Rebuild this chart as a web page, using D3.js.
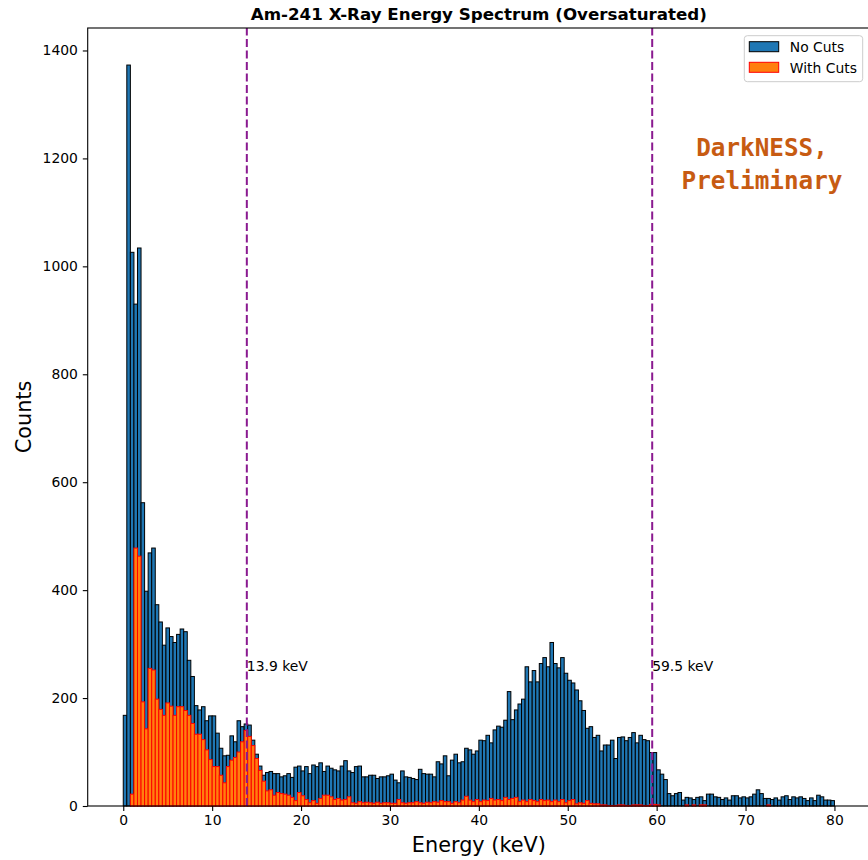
<!DOCTYPE html>
<html>
<head>
<meta charset="utf-8">
<script src="https://cdn.jsdelivr.net/npm/d3@7"></script>
<style>
  html, body { margin: 0; padding: 0; background: #fff; }
  svg { display: block; }
</style>
</head>
<body>
<svg id="chart" width="868" height="860"></svg>
<script>
// Histogram binning (keV)
const binStart = 0;
const binWidth = 0.4;

// Counts per 0.4 keV bin, 0-80 keV, without event cuts
const noCuts = [
  168, 1373, 1026, 930, 1034, 562, 398, 469, 478, 373,
  341, 298, 330, 314, 303, 318, 328, 323, 270, 240,
  186, 178, 184, 158, 167, 167, 135, 107, 93, 94,
  130, 119, 158, 147, 152, 150, 122, 96, 74, 57,
  62, 64, 60, 60, 54, 56, 60, 53, 72, 74,
  65, 73, 60, 76, 73, 80, 64, 74, 70, 67,
  65, 74, 84, 65, 62, 73, 74, 54, 54, 57,
  57, 51, 54, 54, 56, 59, 48, 43, 65, 54,
  53, 51, 49, 68, 60, 59, 59, 54, 82, 78,
  93, 56, 85, 96, 80, 82, 107, 104, 96, 102,
  122, 121, 131, 117, 141, 148, 146, 159, 212, 160,
  178, 189, 198, 258, 230, 251, 230, 264, 275, 258,
  303, 264, 256, 275, 246, 233, 228, 215, 195, 177,
  144, 147, 127, 131, 102, 113, 113, 122, 88, 127,
  128, 121, 127, 136, 117, 131, 123, 121, 99, 99,
  67, 59, 49, 23, 19, 23, 25, 11, 16, 15,
  12, 16, 17, 10, 22, 22, 17, 16, 12, 15,
  11, 19, 19, 15, 17, 15, 17, 22, 30, 23,
  14, 14, 12, 15, 11, 17, 19, 12, 17, 15,
  17, 14, 10, 15, 10, 20, 17, 11, 11, 10
];

// Counts per bin after event cuts
const withCuts = [
  0, 0, 22, 478, 463, 193, 143, 255, 252, 198,
  179, 168, 191, 185, 168, 184, 184, 177, 168, 153,
  133, 133, 123, 104, 86, 73, 73, 57, 43, 73,
  85, 90, 100, 119, 140, 129, 112, 88, 66, 46,
  28, 30, 20, 25, 23, 22, 20, 16, 10, 25,
  19, 12, 6, 10, 5, 14, 20, 20, 17, 12,
  14, 11, 12, 17, 6, 5, 8, 6, 7, 6,
  5, 7, 5, 6, 6, 5, 5, 12, 6, 5,
  6, 6, 8, 6, 5, 7, 6, 8, 7, 10,
  8, 8, 5, 8, 6, 11, 18, 11, 8, 12,
  8, 11, 10, 14, 11, 12, 10, 16, 12, 14,
  16, 8, 11, 8, 12, 10, 8, 12, 10, 11,
  8, 11, 8, 12, 6, 10, 12, 4, 6, 5,
  10, 5, 4, 4, 2, 2, 1, 1, 1, 2,
  2, 1, 1, 2, 2, 2, 1, 1, 3, 3,
  2, 0, 0, 0, 0, 0, 0, 0, 2, 0,
  2, 0, 2, 2, 0, 0, 0, 0, 0, 0,
  0, 0, 0, 0, 0, 0, 0, 0, 0, 0,
  0, 2, 0, 0, 0, 0, 0, 0, 0, 0,
  0, 0, 0, 0, 0, 0, 0, 0, 0, 0
];

const seriesNames = ["No Cuts", "With Cuts"];
const xTicks = [0, 10, 20, 30, 40, 50, 60, 70, 80];
const yTicks = [0, 200, 400, 600, 800, 1000, 1200, 1400];

// Reference X-ray lines and where their labels sit
const markerEnergies = [13.9, 59.5];
const markerLabels = ["13.9 keV", "59.5 keV"];
const markerLabelCount = 250;

const titleText = "Am-241 X-Ray Energy Spectrum (Oversaturated)";
const xLabelText = "Energy (keV)";
const yLabelText = "Counts";
const watermarkLines = ["DarkNESS,", "Preliminary"];

// ---- layout ----
const svg = d3.select("#chart");
const plot = { left: 87.7, right: 870, top: 28, bottom: 806 };
const FONT = "'DejaVu Sans', sans-serif";

const nBins = noCuts.length;
const binEnd = binStart + nBins * binWidth;
const span = binEnd - binStart;

const x = d3.scaleLinear()
  .domain([binStart - 0.05 * span, binEnd + 0.05 * span])
  .range([plot.left, plot.right]);
const y = d3.scaleLinear()
  .domain([0, d3.max(noCuts) * 1.05])
  .range([plot.bottom, plot.top]);

const barW = x(binWidth) - x(0);
const binLeft = i => x(binStart + i * binWidth);

// ---- bars ----
const gBars = svg.append("g");
gBars.selectAll("rect.nocut")
  .data(noCuts)
  .join("rect")
  .attr("class", "nocut")
  .attr("x", (d, i) => binLeft(i))
  .attr("y", d => y(d))
  .attr("width", barW)
  .attr("height", d => y(0) - y(d))
  .attr("fill", "#1f77b4")
  .attr("stroke", "#000")
  .attr("stroke-width", 1);

gBars.selectAll("rect.withcut")
  .data(withCuts.map((v, i) => ({ v, i })).filter(d => d.v > 0))
  .join("rect")
  .attr("class", "withcut")
  .attr("x", d => binLeft(d.i))
  .attr("y", d => y(d.v))
  .attr("width", barW)
  .attr("height", d => y(0) - y(d.v))
  .attr("fill", "#ff7f0e")
  .attr("stroke", "#ff0000")
  .attr("stroke-width", 1);

// ---- marker lines ----
const gMarks = svg.append("g");
gMarks.selectAll("line")
  .data(markerEnergies)
  .join("line")
  .attr("x1", d => x(d)).attr("x2", d => x(d))
  .attr("y1", plot.bottom).attr("y2", plot.top)
  .attr("stroke", "#8a1a90")
  .attr("stroke-width", 2)
  .attr("stroke-dasharray", "8,3.5");

gMarks.selectAll("text")
  .data(markerEnergies)
  .join("text")
  .attr("x", d => x(d))
  .attr("y", y(markerLabelCount))
  .attr("font-family", FONT)
  .attr("font-size", "13.9px")
  .attr("fill", "#000")
  .text((d, i) => markerLabels[i]);

// ---- axes ----
const xAxis = d3.axisBottom(x).tickValues(xTicks).tickFormat(d3.format("d"))
  .tickSize(4.9).tickPadding(4.2).tickSizeOuter(0);
const yAxis = d3.axisLeft(y).tickValues(yTicks).tickFormat(d3.format("d"))
  .tickSize(4.9).tickPadding(4.9).tickSizeOuter(0);

const gx = svg.append("g").attr("transform", `translate(0,${plot.bottom})`).call(xAxis);
const gy = svg.append("g").attr("transform", `translate(${plot.left},0)`).call(yAxis);
[gx, gy].forEach(g => {
  g.select(".domain").remove();
  g.selectAll(".tick line").attr("stroke", "#000").attr("stroke-width", 1.1);
  g.selectAll(".tick text")
    .attr("font-family", FONT)
    .attr("font-size", "13.9px")
    .attr("fill", "#000");
});

// frame
svg.append("rect")
  .attr("x", plot.left).attr("y", plot.top)
  .attr("width", plot.right - plot.left)
  .attr("height", plot.bottom - plot.top)
  .attr("fill", "none")
  .attr("stroke", "#000")
  .attr("stroke-width", 1.1);

// ---- titles ----
const cx = (plot.left + plot.right) / 2;
svg.append("text")
  .attr("x", cx).attr("y", 20)
  .attr("text-anchor", "middle")
  .attr("font-family", FONT)
  .attr("font-weight", "bold")
  .attr("font-size", "16.7px")
  .text(titleText);

svg.append("text")
  .attr("x", cx).attr("y", 852)
  .attr("text-anchor", "middle")
  .attr("font-family", FONT)
  .attr("font-size", "20.8px")
  .text(xLabelText);

svg.append("text")
  .attr("transform", `translate(31,${(plot.top + plot.bottom) / 2}) rotate(-90)`)
  .attr("text-anchor", "middle")
  .attr("font-family", FONT)
  .attr("font-size", "20.8px")
  .text(yLabelText);

// ---- watermark ----
svg.append("g").selectAll("text")
  .data(watermarkLines)
  .join("text")
  .attr("x", 762)
  .attr("y", (d, i) => 156 + i * 32.5)
  .attr("text-anchor", "middle")
  .attr("font-family", "'DejaVu Sans Mono', monospace")
  .attr("font-weight", "bold")
  .attr("font-size", "24.3px")
  .attr("fill", "#c75b12")
  .text(d => d);

// ---- legend ----
const legend = svg.append("g").attr("transform", "translate(744.3,35.7)");
legend.append("rect")
  .attr("width", 118.4).attr("height", 46)
  .attr("rx", 3)
  .attr("fill", "#fff").attr("fill-opacity", 0.8)
  .attr("stroke", "#cccccc").attr("stroke-width", 1);
const legendStyle = [
  { fill: "#1f77b4", stroke: "#000" },
  { fill: "#ff7f0e", stroke: "#ff0000" }
];
seriesNames.forEach((name, i) => {
  const row = legend.append("g").attr("transform", `translate(5,${6 + i * 20.6})`);
  row.append("rect")
    .attr("width", 29.4).attr("height", 10)
    .attr("fill", legendStyle[i].fill)
    .attr("stroke", legendStyle[i].stroke)
    .attr("stroke-width", 1);
  row.append("text")
    .attr("x", 40.5).attr("y", 10.4)
    .attr("font-family", FONT)
    .attr("font-size", "13.9px")
    .attr("fill", "#000")
    .text(name);
});
</script>
</body>
</html>
